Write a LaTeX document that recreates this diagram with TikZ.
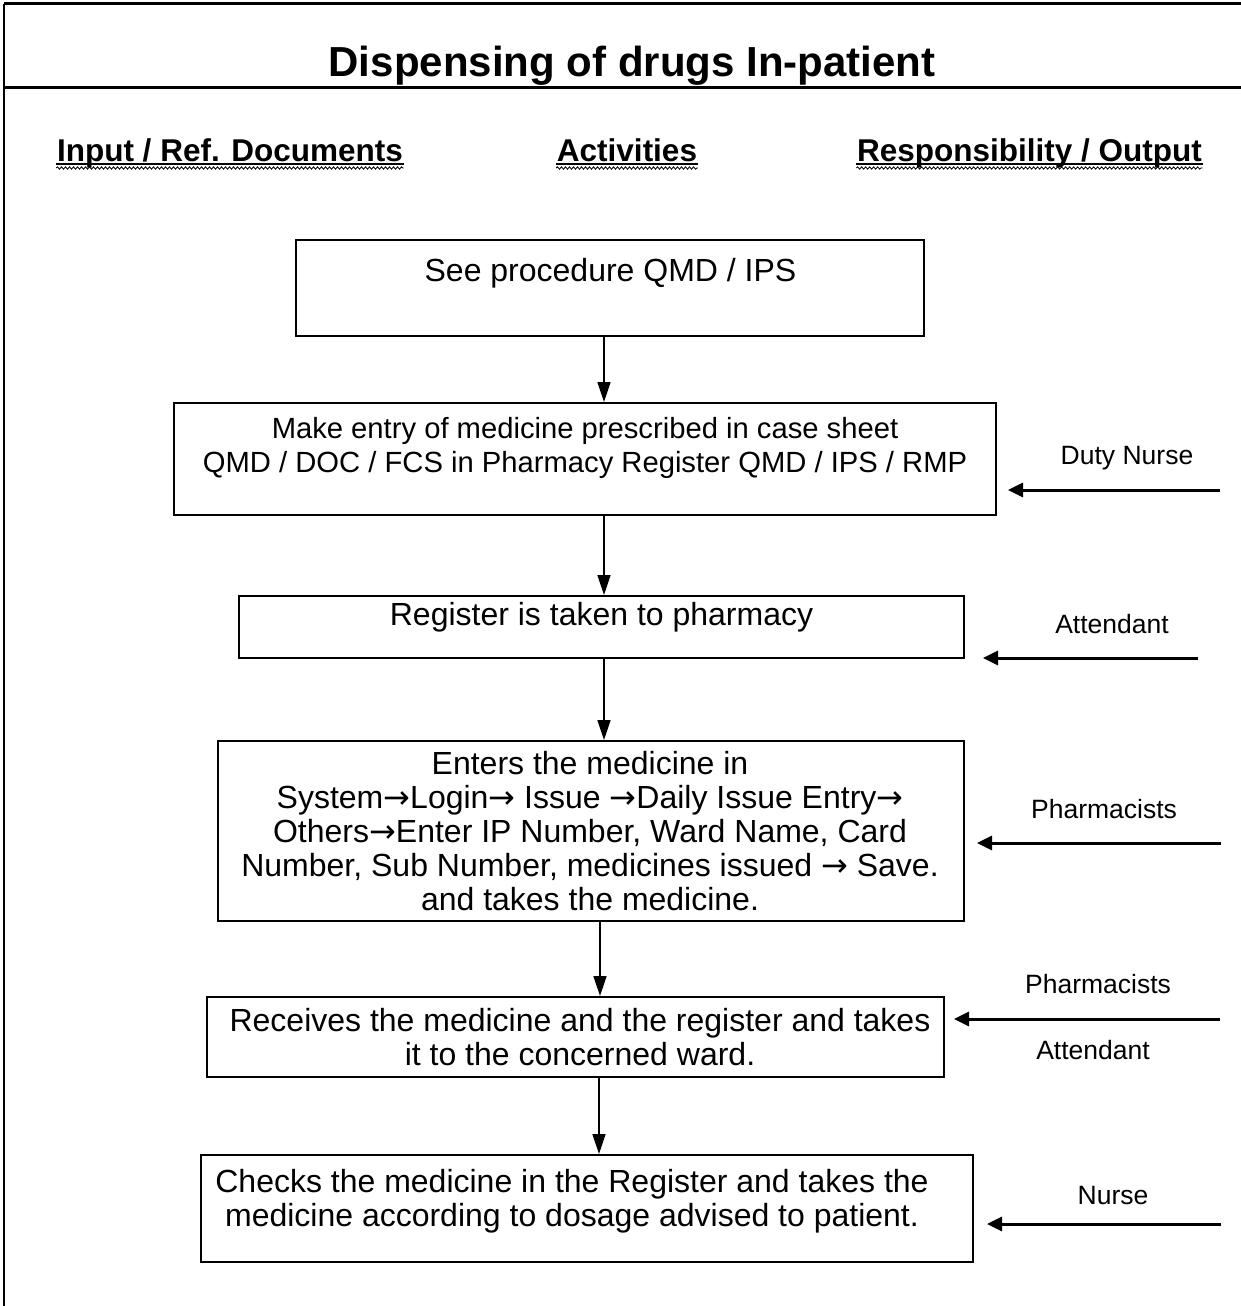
\documentclass[tikz,border=0pt]{standalone}
\usepackage{fontspec}
\setmainfont{Liberation Sans}
\newfontfamily\arrowfont{DejaVu Sans}
\newcommand{\ra}{{\arrowfont\fontsize{32pt}{34pt}\selectfont →}}
\usetikzlibrary{arrows.meta,calc,decorations.pathmorphing}

\tikzset{every picture/.style={line width=1.5pt}}
\tikzset{
  box/.style={draw, line width=2pt, inner sep=0pt},
  boxtext/.style={align=center, inner sep=0pt, font=\fontsize{32pt}{34pt}\selectfont},
  who/.style={inner sep=0pt, font=\fontsize{26.5pt}{30pt}\selectfont},
  colhead/.style={inner sep=0pt, font=\bfseries\fontsize{31.5pt}{34pt}\selectfont},
  flow/.style={-{Triangle[length=20pt,width=13pt]}, line width=1.6pt},
  duty/.style={-{Triangle[length=15pt,width=14pt]}, line width=3pt},
  uline/.style={line width=1.5pt},
  wavy/.style={line width=0.8pt, decorate, decoration={snake, amplitude=1.2pt, segment length=4pt}}
}

\begin{document}
\begin{tikzpicture}[x=1pt,y=1pt,yscale=-1,xscale=1]
\useasboundingbox (0,0) rectangle (1241,1306);

%Frame
\draw [line width=3pt] (1241,4) -- (4,4) ;
\draw [line width=2pt] (4,4) -- (4,1306) ;
\draw [line width=3pt] (4,87) -- (1241,87) ;

% Title
\node [anchor=base, inner sep=0pt, font=\bfseries\fontsize{42pt}{46pt}\selectfont] (title) at (632,77) {Dispensing of drugs In-patient};

% Column heads
\node [colhead, anchor=base] (hin) at (230,161) {Input / Ref. Documents};
\node [colhead, anchor=base] (hact) at (627,161) {Activities};
\node [colhead, anchor=base] (hout) at (1029.5,161) {Responsibility / Output};
\foreach \h in {hin,hact,hout}{
  \draw [uline] ($(\h.base west)+(0,3)$) -- ($(\h.base east)+(0,3)$) ;
  \draw [wavy] ($(\h.base west)+(0,7)$) -- ($(\h.base east)+(0,7)$) ;
}

%Shape: Rectangle
\node [box, minimum width=628pt, minimum height=96pt] (see) at (610,288) {};
\node [box, minimum width=822pt, minimum height=112pt] (entry) at (585,459) {};
\node [box, minimum width=725pt, minimum height=62pt] (reg) at (601.5,627) {};
\node [box, minimum width=746pt, minimum height=180pt] (enter) at (591,831) {};
\node [box, minimum width=737pt, minimum height=80pt] (recv) at (575.5,1037) {};
\node [box, minimum width=772pt, minimum height=107pt] (check) at (587,1208.5) {};

% Text Node
\node [boxtext, anchor=base] (see-t) at (610.5,281) {See procedure QMD / IPS};
\node [boxtext, font=\fontsize{29.2pt}{34pt}\selectfont] (entry-t) at (585,448) {Make entry of medicine prescribed in case sheet\\QMD / DOC / FCS in Pharmacy Register QMD / IPS / RMP};
\node [boxtext, anchor=base] (reg-t) at (601.5,625) {Register is taken to pharmacy};
\node [boxtext] (enter-t) at (590,831) {Enters the medicine in\\System\ra Login\ra{} Issue \ra Daily Issue Entry\ra\\Others\ra Enter IP Number, Ward Name, Card\\Number, Sub Number, medicines issued \ra{} Save.\\and takes the medicine.};
\node [boxtext] (recv-t) at (580,1037) {Receives the medicine and the register and takes\\it to the concerned ward.};
\node [boxtext] (check-t) at (572,1201) {Checks the medicine in the Register and takes the\\medicine according to dosage advised to patient.};

% Text Node
\node [who, anchor=base] (nurse1) at (1127,464) {Duty Nurse};
\node [who, anchor=base] (att1) at (1112,633) {Attendant};
\node [who, anchor=base] (pharm1) at (1104,818) {Pharmacists};
\node [who, anchor=base] (pharm2) at (1098,993) {Pharmacists};
\node [who, anchor=base] (att2) at (1093,1059) {Attendant};
\node [who, anchor=base] (nurse2) at (1113,1204) {Nurse};

%Straight Lines
\coordinate (c1) at (604,0);
\coordinate (c2) at (600,0);
\coordinate (c3) at (599,0);
\draw [flow] (see.south -| c1) -- (entry.north -| c1) ;
\draw [flow] (entry.south -| c1) -- (reg.north -| c1) ;
\draw [flow] (reg.south -| c1) -- (enter.north -| c1) ;
\draw [flow] (enter.south -| c2) -- (recv.north -| c2) ;
\draw [flow] (recv.south -| c3) -- (check.north -| c3) ;

%Side arrows
\coordinate (d1) at (1220,490);   \coordinate (e1) at (1008,490);
\coordinate (d2) at (1198,658);   \coordinate (e2) at (983,658);
\coordinate (d3) at (1221,843);   \coordinate (e3) at (977,843);
\coordinate (d4) at (1220,1019);  \coordinate (e4) at (954,1019);
\coordinate (d5) at (1221,1224);  \coordinate (e5) at (987,1224);
\foreach \i in {1,...,5}{
  \draw [duty] (d\i) -- (e\i) ;
}

\end{tikzpicture}
\end{document}
